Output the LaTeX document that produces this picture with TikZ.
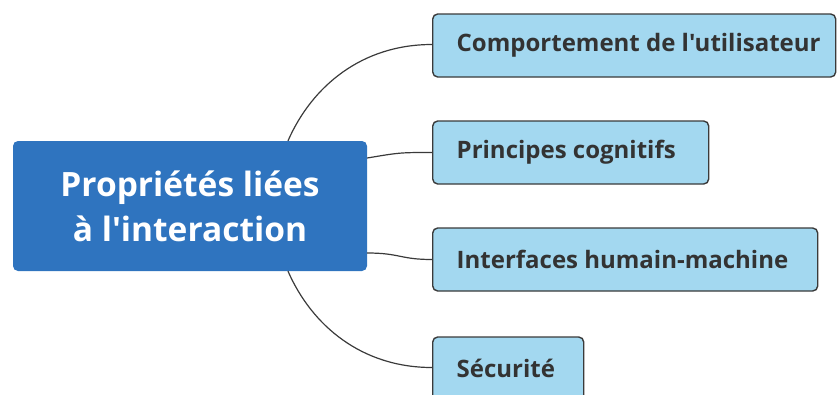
\documentclass[tikz,border=0pt]{standalone}
\usepackage{fontspec}
\newfontfamily\diafont{Open Sans}[Ligatures={NoCommon}]
\definecolor{mainblue}{HTML}{2F74BF}
\definecolor{lightblue}{HTML}{A3D8F0}
\definecolor{edgegray}{HTML}{3A3A3A}
\definecolor{txtgray}{HTML}{333333}
\newcommand{\lbox}[2]{\makebox[#1][l]{#2}}
\begin{document}
\begin{tikzpicture}[x=1pt,y=-1pt,
  mainbox/.style={draw=none,fill=mainblue,rounded corners=5pt,minimum width=354pt,minimum height=130pt,
    text=white,font=\diafont\fontsize{33.5}{45}\selectfont\bfseries,align=center,inner sep=0pt},
  childbox/.style={draw=edgegray,line width=1.4pt,fill=lightblue,rounded corners=5pt,minimum height=63pt,
    anchor=west,text=txtgray,font=\diafont\fontsize{24}{25}\selectfont\bfseries,inner xsep=24pt,inner ysep=0pt},
  link/.style={draw=edgegray,line width=1.2pt}]
\useasboundingbox (0,0) rectangle (837,394);
\clip (0,0) rectangle (837,394);
\node[mainbox] (c) at (190,206) {Propriétés liées\\à l'interaction};
\node[childbox] (b1) at (432,45.5) {\lbox{355pt}{Comportement de l'utilisateur}};
\node[childbox] (b2) at (432,152.5) {\lbox{228pt}{Principes cognitifs}};
\node[childbox] (b3) at (432,259.5) {\lbox{337pt}{Interfaces humain-machine}};
\node[childbox] (b4) at (432,368.5) {\lbox{103pt}{Sécurité}};
\coordinate (s1) at ([xshift=98pt]c.north);
\coordinate (s2) at ([yshift=48pt]c.east);
\coordinate (s3) at ([yshift=-47pt]c.east);
\coordinate (s4) at ([xshift=98pt]c.south);
\coordinate (e1) at ([yshift=1pt]b1.west);
\coordinate (e4) at ([yshift=1pt]b4.west);
\draw[link] (s1) .. controls (312,86) and (362,44.5) .. (e1);
\draw[link] (s2) .. controls (400,152.5) and (400,152.5) .. (b2.west);
\draw[link] (s3) .. controls (400,253) and (400,259.5) .. (b3.west);
\draw[link] (s4) .. controls (312,326) and (362,367.5) .. (e4);
\end{tikzpicture}
\end{document}
